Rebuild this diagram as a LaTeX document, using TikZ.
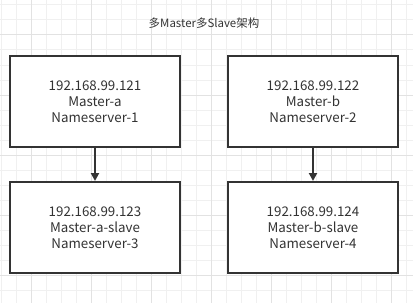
\documentclass[tikz,border=0pt]{standalone}
\usepackage{fontspec}
\setmainfont{Noto Sans CJK SC}
\usetikzlibrary{arrows.meta}
\definecolor{gridminor}{HTML}{F0F0F0}
\definecolor{gridmajor}{HTML}{E2E2E2}
\definecolor{ink}{HTML}{333333}
\begin{document}
\begin{tikzpicture}[x=0.75pt, y=-0.75pt,
		every node/.style={text=ink, font=\fontsize{10}{12}\selectfont},
		srv/.style={draw=ink, line width=1.5pt, fill=white, align=center,
			minimum width=127.5pt, minimum height=68.25pt, inner sep=0pt},
		link/.style={draw=ink, line width=1.5pt, -{Triangle[width=6pt,length=6pt]}}]
	\useasboundingbox (0, 0) rectangle (413, 303);
	\fill[white] (0, 0) rectangle (413, 303);
	% background grid
	\foreach \k in {0, ..., 27}
		\draw[gridminor, line width=0.75pt] ({1.7+15*\k}, 0) -- ({1.7+15*\k}, 303);
	\foreach \k in {0, ..., 19}
		\draw[gridminor, line width=0.75pt] (0, {5+15*\k}) -- (413, {5+15*\k});
	\foreach \k in {2, 6, ..., 26}
		\draw[gridmajor, line width=0.75pt] ({1.7+15*\k}, 0) -- ({1.7+15*\k}, 303);
	\foreach \k in {2, 6, ..., 18}
		\draw[gridmajor, line width=0.75pt] (0, {5+15*\k}) -- (413, {5+15*\k});

	\node[font=\fontsize{8.6}{12}\selectfont] (title) at (204, 23) {多Master多Slave架构};

	\node[srv] (ma) at (95, 101.5) {192.168.99.121\\Master-a\\Nameserver-1};
	\node[srv] (mb) at (313, 101.5) {192.168.99.122\\Master-b\\Nameserver-2};
	\node[srv] (sa) at (95, 227.5) {192.168.99.123\\Master-a-slave\\Nameserver-3};
	\node[srv] (sb) at (313, 227.5) {192.168.99.124\\Master-b-slave\\Nameserver-4};

	\draw[link] (ma) -- (sa);
	\draw[link] (mb) -- (sb);
\end{tikzpicture}
\end{document}
